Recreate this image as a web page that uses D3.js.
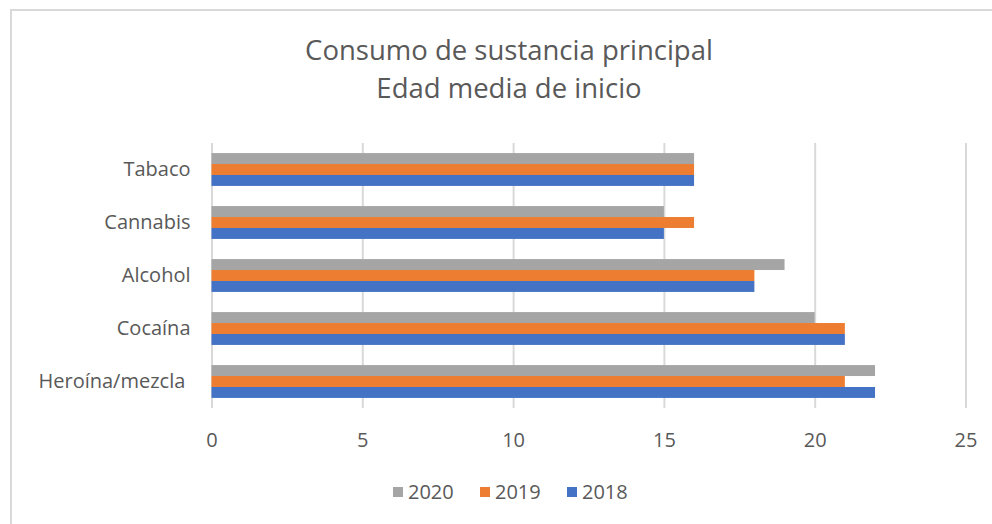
<!DOCTYPE html>
<html>
<head>
<meta charset="utf-8">
<script src="https://cdn.jsdelivr.net/npm/d3@7"></script>
<style>
  body { margin: 0; background: #fff; }
  svg { display: block; font-family: 'Open Sans', Calibri, sans-serif; }
  text { fill: #595959; }
</style>
</head>
<body>
<div class="chart"></div>
<script>
  const categories = ['Tabaco', 'Cannabis', 'Alcohol', 'Cocaína', 'Heroína/mezcla '];
  const years = ['2020', '2019', '2018'];
  const values2020 = [16, 15, 19, 20, 22];
  const values2019 = [16, 16, 18, 21, 21];
  const values2018 = [16, 15, 18, 21, 22];
  const xTicks = [0, 5, 10, 15, 20, 25];

  const colors = { '2020': '#A5A5A5', '2019': '#ED7D31', '2018': '#4472C4' };
  const seriesValues = { '2020': values2020, '2019': values2019, '2018': values2018 };

  const W = 992, H = 524;
  const plot = { left: 211.5, right: 965.5, top: 143, bottom: 408 };

  const svg = d3.select('.chart').append('svg').attr('width', W).attr('height', H);

  // chart frame
  svg.append('rect')
    .attr('x', 11).attr('y', 10)
    .attr('width', 1000).attr('height', 600)
    .style('fill', '#fff').style('stroke', '#D9D9D9').style('stroke-width', 2);

  // title
  const title = svg.append('text')
    .attr('x', 509).attr('text-anchor', 'middle')
    .style('font-size', '27.5px');
  title.append('tspan').attr('x', 509).attr('y', 60).text('Consumo de sustancia principal');
  title.append('tspan').attr('x', 509).attr('y', 98).text('Edad media de inicio');

  const x = d3.scaleLinear().domain([0, 25]).range([plot.left, plot.right]);

  const y = d3.scaleBand().domain(categories)
    .range([plot.top, plot.bottom])
    .paddingInner(0.38).paddingOuter(0.19);

  const yInner = d3.scaleBand().domain(years).range([0, y.bandwidth()]);

  // gridlines
  svg.append('g')
    .attr('transform', 'translate(0,' + plot.top + ')')
    .call(d3.axisBottom(x).tickValues(xTicks).tickSize(plot.bottom - plot.top).tickFormat(''))
    .call(function (g) {
      g.select('.domain').remove();
      g.selectAll('line').style('stroke', '#D9D9D9').style('stroke-width', 2);
    });

  // bars
  const groups = svg.append('g').selectAll('g').data(categories)
    .enter().append('g')
    .attr('transform', function (d) { return 'translate(0,' + y(d) + ')'; });

  groups.selectAll('rect')
    .data(function (d, i) {
      return years.map(function (yr) { return { year: yr, value: seriesValues[yr][i] }; });
    })
    .enter().append('rect')
    .attr('x', x(0))
    .attr('y', function (d) { return yInner(d.year); })
    .attr('width', function (d) { return x(d.value) - x(0); })
    .attr('height', yInner.bandwidth())
    .style('fill', function (d) { return colors[d.year]; });

  // x tick labels
  svg.append('g')
    .attr('transform', 'translate(0,' + plot.bottom + ')')
    .call(d3.axisBottom(x).tickValues(xTicks).tickSize(0).tickPadding(25))
    .call(function (g) {
      g.attr('font-family', null).attr('font-size', null);
      g.select('.domain').remove();
      g.selectAll('text').style('font-size', '20px').style('fill', '#595959');
    });

  // category labels
  svg.append('g')
    .attr('transform', 'translate(' + plot.left + ',0)')
    .call(d3.axisLeft(y).tickSize(0).tickPadding(21))
    .call(function (g) {
      g.attr('font-family', null).attr('font-size', null);
      g.select('.domain').remove();
      g.selectAll('text').style('font-size', '20px').style('fill', '#595959')
        .style('white-space', 'pre');
    });

  // legend
  const legendX = d3.scalePoint().domain(years).range([393, 567]);
  const legend = svg.append('g').selectAll('g').data(years)
    .enter().append('g')
    .attr('transform', function (d) { return 'translate(' + legendX(d) + ',487)'; });

  legend.append('rect')
    .attr('width', 10).attr('height', 10)
    .style('fill', function (d) { return colors[d]; });

  legend.append('text')
    .attr('x', 15).attr('y', 12)
    .style('font-size', '20px')
    .text(function (d) { return d; });
</script>
</body>
</html>
